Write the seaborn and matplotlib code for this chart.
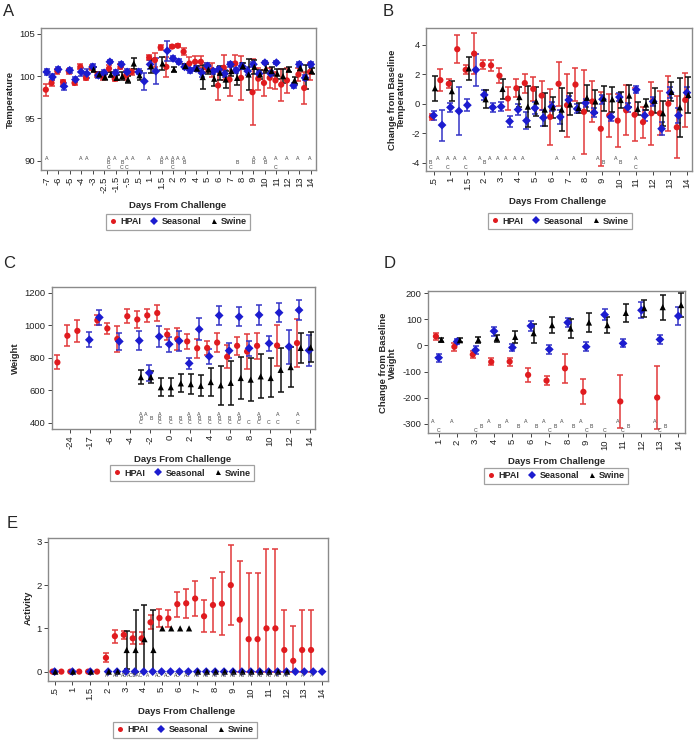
import numpy as np
import pandas as pd
import matplotlib
matplotlib.use("Agg")
import matplotlib.pyplot as plt
import seaborn as sns
from matplotlib.lines import Line2D

nan = np.nan

# ---------------- data ----------------
series_names = ["HPAI", "Seasonal", "Swine"]

# Panel A: Temperature (slots every half tick)
a_ticklabels = ["-7", "-6", "-5", "-4", "-3", "-2.5", "-1.5", "-.5", ".5", "1", "1.5", "2",
                "3", "4", "5", "6", "7", "8", "9", "10", "11", "12", "13", "14"]
a_hpai = [98.4, 99.2, 100.6, 99.3, 100.6, 99.2, 101.1, 99.8, 101.0, 100.2,
          99.9, 100.9, 99.7, 101.1, 100.1, 100.5, nan, nan, 102.2, 101.9,
          103.4, 101.1, 103.5, 103.6, 102.9, 101.5, 101.7, 101.7, 101.0, 100.7,
          98.9, 101.0, 99.6, 101.5, 99.8, nan, 98.1, 99.7, 99.2, 99.8,
          99.5, 99.0, 99.5, nan, 100.2, 98.6, 100.5]
a_hpai_err = [0.7, 0.4, 0.3, 0.3, 0.3, 0.3, 0.3, 0.3, 0.3, 0.3,
              0.4, 0.4, 0.3, 0.3, 0.5, 0.4, nan, nan, 0.3, 0.8,
              0.3, 1.2, 0.2, 0.2, 0.4, 0.8, 0.7, 0.7, 0.5, 0.8,
              1.7, 1.5, 2.0, 1.0, 2.6, nan, 3.9, 1.3, 1.5, 1.2,
              1.0, 1.9, 1.5, nan, 0.8, 1.9, 1.0]
a_seas = [100.5, 99.9, 100.8, 98.8, 100.7, 99.6, 100.5, 100.3, 101.1, 100.1,
          100.4, 101.7, 100.4, 101.4, 100.5, nan, 100.5, 99.4, 101.4, 100.6,
          nan, 103.0, 102.1, 101.7, 101.1, 100.7, 100.9, 100.4, 101.2, 100.6,
          100.8, 100.3, 101.4, 100.7, 101.2, 100.6, 101.4, 100.3, 101.6, 100.3,
          101.6, nan, nan, 98.9, 101.4, 99.8, 101.4]
a_seas_err = [0.4, 0.4, 0.3, 0.4, 0.3, 0.3, 0.5, 0.5, 0.3, 0.3,
              0.3, 0.2, 0.3, 0.3, 0.3, nan, 0.3, 1.0, 0.5, 1.5,
              nan, 1.2, 0.3, 0.3, 0.3, 0.3, 0.3, 0.5, 0.3, 0.3,
              0.3, 0.4, 0.3, 0.3, 0.3, 0.5, 0.3, 0.3, 0.2, 0.3,
              0.2, nan, nan, 0.3, 0.3, 0.3, 0.3]
a_swine = [nan] * 8 + [100.8, 100.2, 99.9, 100.2, 99.8, 100.0, 99.6, 101.5, 100.1, nan,
                       101.2, nan, 101.5, nan, 100.8, nan, 101.2, nan, 100.9, 99.9,
                       100.8, 99.7, 100.4, 99.6, 100.6, 99.8, 101.2, 100.2, 101.1, 100.2,
                       100.9, 100.6, 100.3, 100.0, 100.8, 99.5, 101.0, 99.9, 100.6]
a_swine_err = [nan] * 8 + [0.3, 0.3, 0.3, 0.3, 0.3, 0.5, 0.4, 0.6, 0.5, nan,
                           0.8, nan, 0.8, nan, 0.3, nan, 0.2, nan, 0.3, 1.4,
                           0.5, 0.9, 0.8, 1.0, 0.6, 0.9, 0.3, 1.8, 0.8, 0.5,
                           0.5, 0.5, 0.6, 0.8, 0.3, 0.4, 0.4, 1.4, 0.4]
a_letter_slots = [0, 3, 3.5, 5.4, 5.9, 6.55, 7.0, 7.45, 8.85, 10.0, 10.45, 10.95, 11.4, 11.95,
                  16.6, 18.0, 19.0, 19.95, 20.9, 21.9, 22.9]
a_letter_text = ["A", "A", "A", "ABC", "A", "BC", "AC", "A", "A", "AB", "A", "ABC", "A", "AB",
                 "B", "AB", "AB", "AC", "A", "A", "A"]

# Panel B: change from baseline temperature
b_ticklabels = [".5", "1", "1.5", "2", "3", "4", "5", "6", "7", "8", "9", "10", "11", "12", "13", "14"]
b_hpai = [-0.9, 1.6, 1.35, 3.7, 2.3, 3.4, 2.65, 2.6, 1.9, 0.35,
          1.05, 1.4, 1.0, 0.55, -0.9, 1.35, -0.1, 1.3, -0.55, 0.15,
          -1.7, -0.8, -1.15, -0.45, -0.75, -1.25, -0.65, -0.65, 0.0, -1.6, 0.25]
b_hpai_err = [0.2, 0.75, 0.3, 0.95, 0.3, 1.4, 0.3, 0.35, 0.5, 0.8,
              0.6, 0.65, 0.8, 1.0, 1.9, 1.5, 2.15, 1.1, 2.85, 1.4,
              2.5, 1.45, 1.8, 1.7, 1.8, 1.05, 2.15, 1.5, 1.85, 2.1, 1.85]
b_seas = [-0.8, -1.45, -0.25, -0.5, -0.1, 2.3, 0.6, -0.25, -0.2, -1.2,
          -0.4, -1.15, -0.3, -0.95, -0.2, -0.9, 0.25, -0.35, 0.05, -0.6,
          0.3, -0.9, 0.45, -0.25, 0.95, -0.8, 0.15, -1.7, 0.75, -0.8, 0.75]
b_seas_err = [0.3, 1.05, 0.3, 1.6, 0.4, 1.1, 0.35, 0.3, 0.3, 0.35,
              0.4, 0.6, 0.4, 0.55, 0.3, 0.45, 0.3, 0.3, 0.3, 0.3,
              0.3, 0.3, 0.3, 0.3, 0.25, 0.35, 0.3, 0.45, 0.35, 0.5, 0.35]
b_swine = [1.05, nan, 0.85, nan, 2.4, nan, 0.3, nan, 1.0, nan,
           0.45, -0.2, 0.15, -0.4, -0.25, -0.4, -0.05, -0.3, 0.4, 0.15,
           0.35, 0.3, 0.25, 0.55, -0.35, -0.05, 0.2, -0.65, 0.8, -0.25, 0.6]
b_swine_err = [0.85, nan, 0.7, nan, 0.8, nan, 0.6, nan, 0.65, nan,
               0.7, 1.4, 1.0, 1.1, 0.7, 1.45, 0.75, 0.35, 0.9, 0.8,
               0.85, 0.85, 0.55, 0.75, 0.45, 0.4, 0.85, 0.85, 0.65, 2.0, 1.2]
b_letter_slots = [-0.18, 0.26, 0.85, 1.24, 1.87, 2.76, 3.03, 3.3, 3.8, 4.29, 4.78, 5.28,
                  7.28, 8.27, 9.74, 10.04, 10.79, 11.06, 11.97]
b_letter_text = ["BC", "A", "AC", "A", "AC", "A", "B", "A", "A", "A", "A", "A",
                 "A", "A", "A", "B", "A", "B", "AC"]

# Panel C: weight (slots start half a tick before the first label)
c_ticklabels = ["-24", "-17", "-6", "-4", "-2", "0", "2", "4", "6", "8", "10", "12", "14"]
c_hpai = [771, 935, 965, nan, 1030, 980, 915, 1055, 1035, 1060, 1075, 942, 915, 900,
          858, 860, 893, 805, 873, 838, 873, nan, 875, nan, 890, nan]
c_hpai_err = [43, 65, 68, nan, 30, 35, 78, 42, 55, 42, 48, 32, 65, 48,
              60, 45, 60, 70, 55, 105, 80, nan, 125, nan, 150, nan]
c_seas = [nan, nan, nan, 910, 1048, nan, 900, nan, 905, 707, 930, 883, 903, 765,
          975, 808, 1060, 843, 1052, 858, 1063, 888, 1077, 868, 1093, 845]
c_seas_err = [nan, nan, nan, 45, 45, nan, 50, nan, 60, 50, 62, 45, 60, 35,
              68, 45, 60, 45, 60, 45, 60, 45, 60, 105, 60, 95]
c_swine = [nan] * 8 + [680, 680, 618, 618, 642, 637, 627, 650, 630, 645, 675, 665, 685, 675,
                       725, 742, 860, 863]
c_swine_err = [nan] * 8 + [42, 35, 55, 55, 55, 60, 65, 85, 120, 135, 128, 130, 135, 120,
                           135, 125, 90, 92]
c_letter_slots = [3.53, 3.78, 4.03, 4.45, 5.0, 5.5, 5.95, 6.45, 6.95, 7.45, 7.95, 8.45,
                  8.95, 9.45, 9.95, 10.38, 11.38]
c_letter_text = ["ABC", "A", "B", "ABC", "BC", "BC", "ABC", "ABC", "BC", "ABC", "BC", "ABC",
                 "C", "ABC", "C", "AC", "AC"]

# Panel D: change from baseline weight (days 1-14)
d_days = list(range(1, 15))
d_hpai = [35, -5, -35, -63, -62, -113, -135, -88, -178, nan, -215, nan, -200, nan]
d_hpai_err = [13, 15, 12, 13, 15, 27, 18, 57, 48, nan, 103, nan, 122, nan]
d_seas = [-47, 15, -18, 55, -8, 75, -15, 88, -5, 118, 8, 135, 23, 113]
d_seas_err = [15, 10, 15, 17, 15, 18, 17, 17, 17, 20, 15, 30, 18, 33]
d_swine = [22, 20, 22, 27, 33, 47, 78, 65, 88, 78, 125, 143, 147, 155]
d_swine_err = [7, 8, 12, 15, 22, 37, 32, 35, 35, 32, 35, 33, 48, 45]
d_letter_a = [1, 2, 4, 5, 6, 7, 8, 9, 11, 13]
d_letter_b = [3, 4, 5, 6, 7, 8, 9, 11, 13]
d_letter_c = [1, 3, 7, 9, 10, 11, 13]

# Panel E: activity
e_ticklabels = [".5", "1", "1.5", "2", "3", "4", "5", "6", "7", "8", "9", "10", "11", "12", "13", "14"]
e_hpai = [0, 0, 0, 0, 0, 0, 0.32, 0.82, 0.85, 0.77, 0.77, 1.14, 1.24, 1.23, 1.56, 1.58,
          1.69, 1.28, 1.54, 1.57, 2.0, 1.2, 0.75, 0.75, 1.0, 1.0, 0.5, 0.25, 0.5, 0.5, nan]
e_hpai_err = [nan] * 6 + [0.1, 0.15, 0.1, 0.14, 0.14, 0.16, 0.2, 0.2, 0.29, 0.33,
                          0.4, 0.37, 0.63, 0.73, 0.92, 1.36, 1.52, 1.52, 1.84, 1.84,
                          0.92, 0.8, 0.92, 0.92, nan]
e_seas = [0, nan, 0, nan, 0, nan] + [0] * 25
e_seas_err = [nan] * 31
e_swine = [0, nan, 0, nan, 0, nan, 0, 0, 0.5, 0.5, 0.75, 0.5, 1.0, 1.0, 1.0, 1.0,
           0, 0, 0, 0, 0, 0, 0, 0, 0, 0, 0, nan, nan, nan, nan]
e_swine_err = [nan] * 8 + [0.45, 0.92, 0.8, 0.92] + [nan] * 19
e_letter_slots = [2.9, 3.45, 3.9, 4.5, 5.2, 5.8, 6.3, 6.9, 7.45, 8, 8.5, 9, 9.5, 10, 10.5,
                  11, 11.5, 12, 12.5, 13, 13.9, 14.4]
e_letter_text = ["A", "AB", "AC", "ACBAC", "A", "AC", "AC", "AC", "AC", "AB", "AB", "AB", "AB",
                 "AB", "AB", "AB", "AB", "AB", "AB", "AB", "A", "A"]

# ---------------- style ----------------
sns.set_theme(style="ticks")
plt.rcParams['font.family'] = ['Liberation Sans', 'DejaVu Sans']

PAL = {"HPAI": "#e01b1f", "Seasonal": "#1c1ccf", "Swine": "#000000"}
BAR = {"HPAI": "#e2393b", "Seasonal": "#3434c6", "Swine": "#111111"}
MK = {"HPAI": "o", "Seasonal": "D", "Swine": "^"}

W, H = 697, 741
fig = plt.figure(figsize=(W / 100, H / 100), dpi=100)


def px_axes(x0, y0, x1, y1):
    return fig.add_axes([x0 / W, 1 - y1 / H, (x1 - x0) / W, (y1 - y0) / H])


def draw(ax, slots, data, offs, clip0=False):
    frames = []
    slots = np.asarray(slots, float)
    for name in series_names:
        v, e = data[name]
        v = np.asarray(v, float)
        e = np.asarray(e, float)
        x = slots + offs[name]
        lo = np.minimum(e, v) if clip0 else e
        m = ~np.isnan(v) & ~np.isnan(e)
        if m.any():
            ax.errorbar(x[m], v[m], yerr=[lo[m], e[m]], fmt='none', ecolor=BAR[name],
                        elinewidth=1.1, capsize=2.2, capthick=1.1, zorder=2)
        frames.append(pd.DataFrame({"x": x, "y": v, "grp": name}).dropna())
    df = pd.concat(frames, ignore_index=True)
    sns.scatterplot(data=df, x="x", y="y", hue="grp", style="grp", palette=PAL,
                    markers=MK, s=20, edgecolor="none", linewidth=0, legend=False,
                    ax=ax, zorder=3)
    ax.set_xlabel("")
    ax.set_ylabel("")


def style_axes(ax, xticks, xlabels, yticks, xlim, ylim):
    ax.set_xlim(*xlim)
    ax.set_ylim(*ylim)
    ax.set_xticks(xticks)
    ax.set_xticklabels(xlabels, rotation=90, fontsize=6.8, color="#222")
    ax.set_yticks(yticks)
    ax.set_yticklabels([str(t) for t in yticks], fontsize=6.8, color="#222")
    ax.tick_params(length=3, width=0.7, color="#444", pad=1.5)
    for s in ax.spines.values():
        s.set_visible(True)
        s.set_color("#8a8a8a")
        s.set_linewidth(1.0)


def stacked_letters(ax, slots, texts, y0, dy):
    for sl, t in zip(slots, texts):
        for ch in t:
            ax.text(sl, y0 - (ord(ch) - 65) * dy, ch, fontsize=3.8, ha='center', va='center',
                    color="#444")


def legend_at(cx, cy):
    handles = [Line2D([], [], ls='none', marker=MK[n], color=PAL[n], markersize=3.6,
                      markeredgewidth=0, label=n) for n in series_names]
    leg = fig.legend(handles=handles, loc='center', bbox_to_anchor=(cx / W, 1 - cy / H), ncol=3,
                     frameon=True, fancybox=False, edgecolor="#8a8a8a", fontsize=6.5,
                     handlelength=0.9, handletextpad=0.35, columnspacing=1.0, borderpad=0.35)
    leg.get_frame().set_linewidth(0.9)
    for t in leg.get_texts():
        t.set_fontweight('bold')


def label_x(cx, cy):
    fig.text(cx / W, 1 - cy / H, "Days From Challenge", ha='center', va='center',
             fontsize=6.8, fontweight='bold')


def label_y(cx, cy, s):
    fig.text(cx / W, 1 - cy / H, s, ha='center', va='center', rotation=90,
             fontsize=6.8, fontweight='bold', linespacing=0.95)


def panel_letter(cx, cy, s):
    fig.text(cx / W, 1 - cy / H, s, ha='center', va='center', fontsize=12)


# ---------------- panel A ----------------
axA = px_axes(41, 28, 316, 170)
a_slots = np.arange(len(a_hpai)) * 0.5
draw(axA, a_slots, {"HPAI": (a_hpai, a_hpai_err), "Seasonal": (a_seas, a_seas_err),
                    "Swine": (a_swine, a_swine_err)},
     {"HPAI": -0.08, "Seasonal": 0.0, "Swine": 0.08})
style_axes(axA, range(len(a_ticklabels)), a_ticklabels, [90, 95, 100, 105], (-0.5, 23.45), (88.9, 105.7))
stacked_letters(axA, a_letter_slots, a_letter_text, 90.25, 0.5)
panel_letter(9, 11, "A")
label_y(10, 100, "Temperature")
label_x(178, 206)
legend_at(178, 222)

# ---------------- panel B ----------------
axB = px_axes(426, 28, 692, 171)
b_slots = np.arange(len(b_hpai)) * 0.5
draw(axB, b_slots, {"HPAI": (b_hpai, b_hpai_err), "Seasonal": (b_seas, b_seas_err),
                    "Swine": (b_swine, b_swine_err)},
     {"HPAI": -0.1, "Seasonal": 0.0, "Swine": 0.08})
style_axes(axB, range(len(b_ticklabels)), b_ticklabels, [-4, -2, 0, 2, 4], (-0.45, 15.3), (-4.57, 5.14))
stacked_letters(axB, b_letter_slots, b_letter_text, -3.73, 0.29)
panel_letter(388, 12, "B")
label_y(397, 100, "Change from Baseline\nTemperature")
label_x(558, 202)
legend_at(560, 221)

# ---------------- panel C ----------------
axC = px_axes(52, 287, 315, 429)
c_slots = np.arange(len(c_hpai)) * 0.5 - 0.5
draw(axC, c_slots, {"HPAI": (c_hpai, c_hpai_err), "Seasonal": (c_seas, c_seas_err),
                    "Swine": (c_swine, c_swine_err)},
     {"HPAI": -0.15, "Seasonal": -0.05, "Swine": 0.03})
style_axes(axC, range(len(c_ticklabels)), c_ticklabels, [400, 600, 800, 1000, 1200], (-0.92, 12.25), (361, 1235))
stacked_letters(axC, c_letter_slots, c_letter_text, 449, 22.5)
panel_letter(9, 264, "C")
label_y(15, 358, "Weight")
label_x(183, 460)
legend_at(182, 473)

# ---------------- panel D ----------------
axD = px_axes(428, 291, 685, 433)
draw(axD, d_days, {"HPAI": (d_hpai, d_hpai_err), "Seasonal": (d_seas, d_seas_err),
                   "Swine": (d_swine, d_swine_err)},
     {"HPAI": -0.15, "Seasonal": 0.0, "Swine": 0.15})
style_axes(axD, d_days, [str(d) for d in d_days], [-300, -200, -100, 0, 100, 200], (0.42, 14.36), (-336, 209))
for d in d_letter_a:
    axD.text(d - 0.3, -290, "A", fontsize=3.8, ha='center', va='center', color="#444")
for d in d_letter_b:
    axD.text(d + 0.3, -312, "B", fontsize=3.8, ha='center', va='center', color="#444")
for d in d_letter_c:
    axD.text(d, -326, "C", fontsize=3.8, ha='center', va='center', color="#444")
panel_letter(390, 264, "D")
label_y(388, 363, "Change from Baseline\nWeight")
label_x(557, 462)
legend_at(556, 476)

# ---------------- panel E ----------------
axE = px_axes(48, 538, 328, 681)
e_slots = np.arange(len(e_hpai)) * 0.5
draw(axE, e_slots, {"HPAI": (e_hpai, e_hpai_err), "Seasonal": (e_seas, e_seas_err),
                    "Swine": (e_swine, e_swine_err)},
     {"HPAI": -0.12, "Seasonal": 0.0, "Swine": 0.04}, clip0=True)
style_axes(axE, range(len(e_ticklabels)), e_ticklabels, [0, 1, 2, 3], (-0.37, 15.33), (-0.217, 3.09))
for sl, t in zip(e_letter_slots, e_letter_text):
    axE.text(sl, -0.085, t, fontsize=3.4, ha='center', va='center', color="#444")
panel_letter(12, 524, "E")
label_y(28, 608, "Activity")
label_x(187, 711)
legend_at(185, 730)

fig.savefig("out.png", dpi=100)
